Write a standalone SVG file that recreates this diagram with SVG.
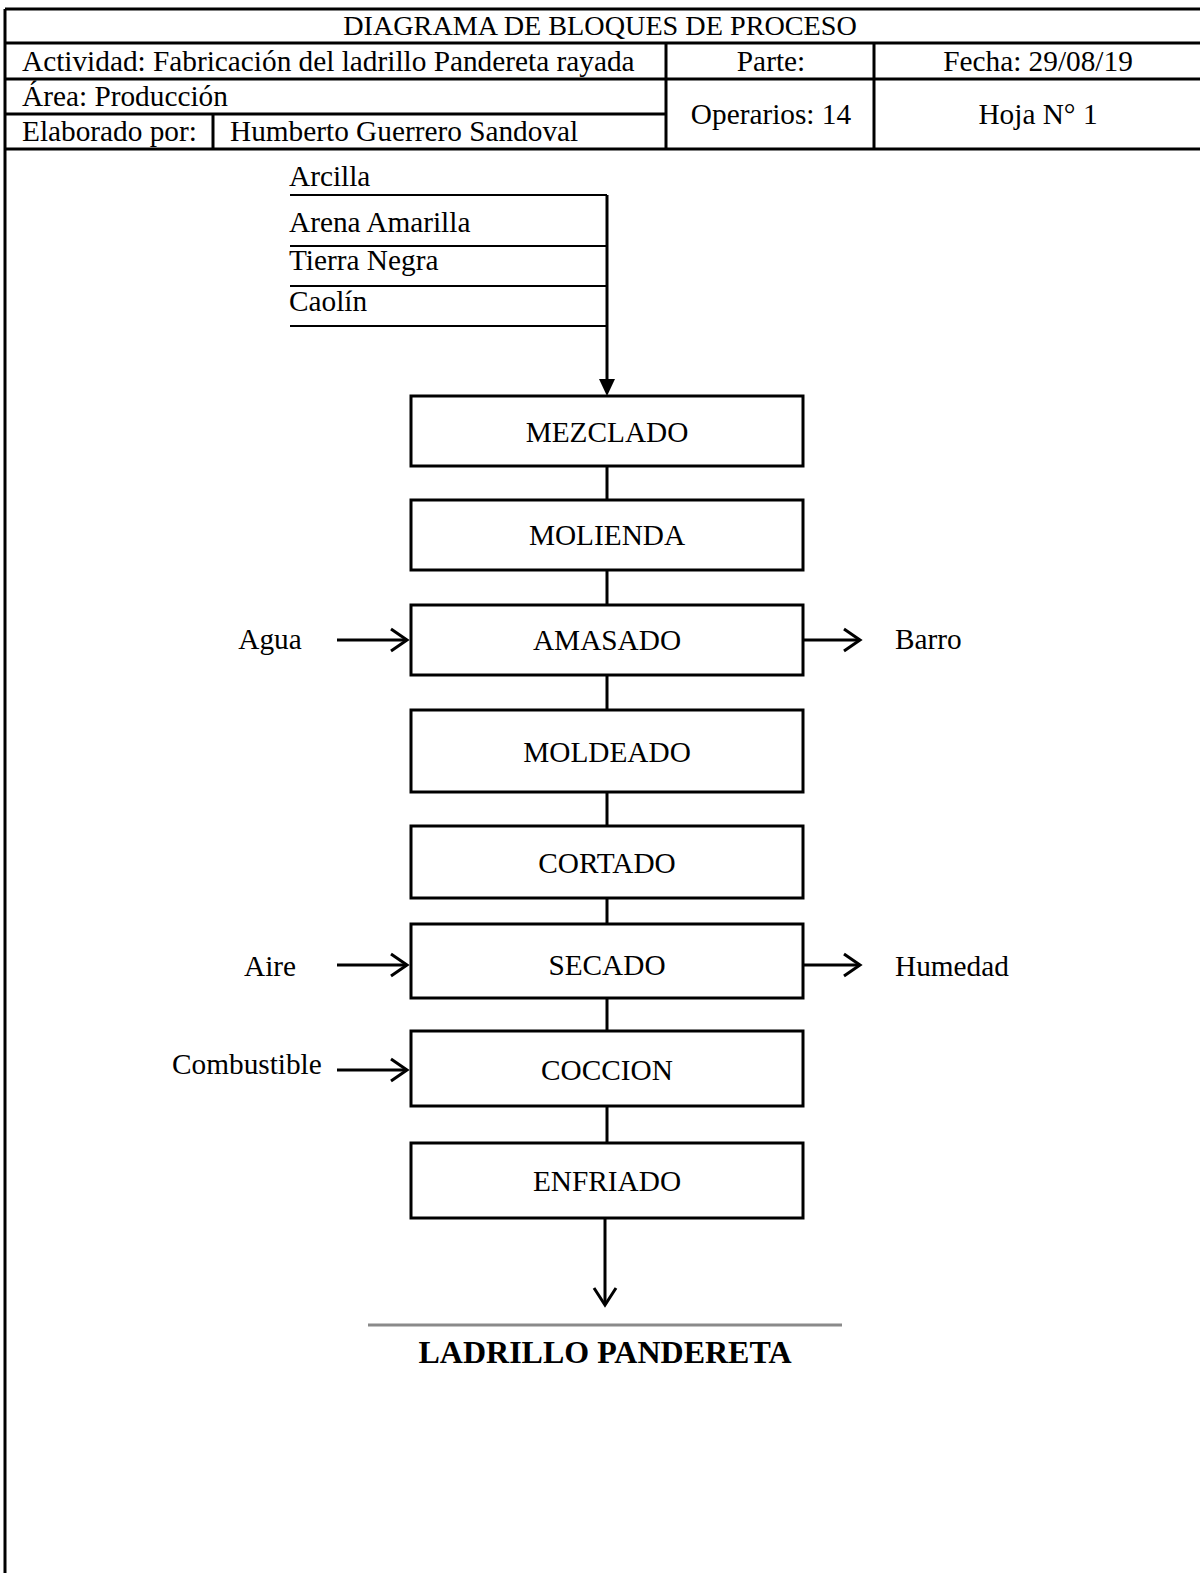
<svg xmlns="http://www.w3.org/2000/svg" width="1200" height="1573" viewBox="0 0 1200 1573">
  <style>
    .t { font-family: "Liberation Serif", "Times New Roman", serif; font-size: 29.3px; fill: #000; }
    .c { text-anchor: middle; }
    .h { font-size: 28.2px; }
    .b { font-weight: bold; font-size: 32px; }
    .grid { stroke: #000; stroke-width: 3; fill: none; }
    .box { stroke: #000; stroke-width: 3; fill: #fff; }
    .ln { stroke: #000; stroke-width: 3; fill: none; }
    .thin { stroke: #000; stroke-width: 2; fill: none; }
    .open { stroke: #000; stroke-width: 3; fill: none; }
  </style>

  <rect width="1200" height="1573" fill="#fff"/>

  <!-- header table -->
  <g id="header">
    <path class="grid" d="M5 9H1200 M5 43H1200 M5 79H1200 M5 114H666 M5 149H1200 M5 9V1573 M666 43V149 M874 43V149 M213 114V149"/>
    <text class="t c h" x="600" y="35">DIAGRAMA DE BLOQUES DE PROCESO</text>
    <text class="t" x="22" y="71">Actividad: Fabricación del ladrillo Pandereta rayada</text>
    <text class="t c" x="771" y="71">Parte:</text>
    <text class="t c" x="1038" y="71">Fecha: 29/08/19</text>
    <text class="t" x="22" y="106">Área: Producción</text>
    <text class="t" x="22" y="141">Elaborado por:</text>
    <text class="t" x="230" y="141">Humberto Guerrero Sandoval</text>
    <text class="t c" x="771" y="124">Operarios: 14</text>
    <text class="t c" x="1038" y="124">Hoja N° 1</text>
  </g>

  <!-- raw materials -->
  <g id="inputs">
    <text class="t" x="289" y="186">Arcilla</text>
    <text class="t" x="289" y="232">Arena Amarilla</text>
    <text class="t" x="289" y="270">Tierra Negra</text>
    <text class="t" x="289" y="311">Caolín</text>
    <path class="thin" d="M290 195H607 M290 246H607 M290 286H607 M290 326H607"/>
  </g>

  <!-- process blocks -->
  <g id="mezclado"><rect class="box" x="411" y="396" width="392" height="70"/><text class="t c" x="607" y="442">MEZCLADO</text></g>
  <g id="molienda"><rect class="box" x="411" y="500" width="392" height="70"/><text class="t c" x="607" y="545">MOLIENDA</text></g>
  <g id="amasado"><rect class="box" x="411" y="605" width="392" height="70"/><text class="t c" x="607" y="650">AMASADO</text></g>
  <g id="moldeado"><rect class="box" x="411" y="710" width="392" height="82"/><text class="t c" x="607" y="762">MOLDEADO</text></g>
  <g id="cortado"><rect class="box" x="411" y="826" width="392" height="72"/><text class="t c" x="607" y="873">CORTADO</text></g>
  <g id="secado"><rect class="box" x="411" y="924" width="392" height="74"/><text class="t c" x="607" y="975">SECADO</text></g>
  <g id="coccion"><rect class="box" x="411" y="1031" width="392" height="75"/><text class="t c" x="607" y="1080">COCCION</text></g>
  <g id="enfriado"><rect class="box" x="411" y="1143" width="392" height="75"/><text class="t c" x="607" y="1191">ENFRIADO</text></g>

  <!-- side streams -->
  <g id="labels">
    <text class="t c" x="270" y="649">Agua</text>
    <text class="t" x="895" y="649">Barro</text>
    <text class="t c" x="270" y="976">Aire</text>
    <text class="t" x="895" y="976">Humedad</text>
    <text class="t" x="172" y="1074">Combustible</text>
  </g>

  <!-- product -->
  <g id="product">
    <line x1="368" y1="1325" x2="842" y2="1325" stroke="#8a8a8a" stroke-width="3"/>
    <text class="t c b" x="605" y="1363">LADRILLO PANDERETA</text>
  </g>

  <!-- connectors -->
  <g id="connectors">
    <path class="ln" d="M607 195V382"/>
    <polygon points="599,379 615,379 607,396" fill="#000"/>
    <path class="ln" d="M607 466V500 M607 570V605 M607 675V710 M607 792V826 M607 898V924 M607 998V1031 M607 1106V1143"/>
    <!-- inflows -->
    <path class="ln" d="M337 640H407 M337 965H407 M337 1070H407"/>
    <path class="open" d="M391 629L407 640L391 651 M391 954L407 965L391 976 M391 1059L407 1070L391 1081"/>
    <!-- outflows -->
    <path class="ln" d="M803 640H860 M803 965H860"/>
    <path class="open" d="M844 629L860 640L844 651 M844 954L860 965L844 976"/>
    <!-- product outlet -->
    <path class="ln" d="M605 1218V1304"/>
    <path class="open" d="M594 1288L605 1305L616 1288"/>
  </g>
</svg>
